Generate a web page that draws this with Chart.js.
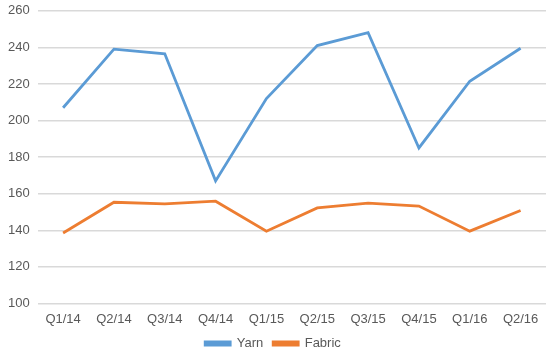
<!DOCTYPE html>
<html>
<head>
<meta charset="utf-8">
<script src="https://cdn.jsdelivr.net/npm/chart.js@4/dist/chart.umd.min.js"></script>
<style>
  html, body { margin: 0; padding: 0; background: #fff; overflow: hidden; }
  #wrap { width: 550px; height: 366px; margin-top: -5px; }
</style>
</head>
<body>
<div id="wrap"><canvas id="chart"></canvas></div>
<script>
// Quarterly values
const quarters = ['Q1/14', 'Q2/14', 'Q3/14', 'Q4/14', 'Q1/15', 'Q2/15', 'Q3/15', 'Q4/15', 'Q1/16', 'Q2/16'];
const yarn = [207, 239, 236.5, 167, 212, 241, 248, 185, 221.5, 239.5];
const fabric = [138.5, 155.3, 154.4, 155.9, 139.5, 152.2, 154.8, 153.2, 139.5, 150.8];

document.addEventListener('DOMContentLoaded', function() {
    const ctx = document.getElementById('chart');
    const tickFont = { family: 'Liberation Sans', size: 13 };
    new Chart(ctx, {
        type: 'line',
        data: {
            labels: quarters,
            datasets: [{
                label: 'Yarn',
                data: yarn,
                borderColor: '#5B9BD5',
                backgroundColor: '#5B9BD5',
                borderWidth: 2.8,
                pointRadius: 0,
                tension: 0
            }, {
                label: 'Fabric',
                data: fabric,
                borderColor: '#ED7D31',
                backgroundColor: '#ED7D31',
                borderWidth: 2.8,
                pointRadius: 0,
                tension: 0
            }]
        },
        options: {
            responsive: true,
            maintainAspectRatio: false,
            animation: false,
            layout: { padding: { top: 0, right: 4, left: 0, bottom: 1 } },
            plugins: {
                tooltip: { enabled: false },
                legend: {
                    position: 'bottom',
                    labels: {
                        boxWidth: 25,
                        boxHeight: 3,
                        padding: 10,
                        color: '#595959',
                        font: tickFont
                    }
                }
            },
            scales: {
                x: {
                    offset: true,
                    grid: { display: false },
                    border: { display: false },
                    ticks: {
                        color: '#595959',
                        padding: 0,
                        maxRotation: 0,
                        font: tickFont
                    }
                },
                y: {
                    min: 100,
                    max: 260,
                    border: { display: false },
                    grid: { color: '#d9d9d9', lineWidth: 1.5, drawTicks: false },
                    ticks: {
                        stepSize: 20,
                        padding: 8,
                        color: '#595959',
                        font: tickFont
                    }
                }
            }
        }
    });
});
</script>
</body>
</html>
